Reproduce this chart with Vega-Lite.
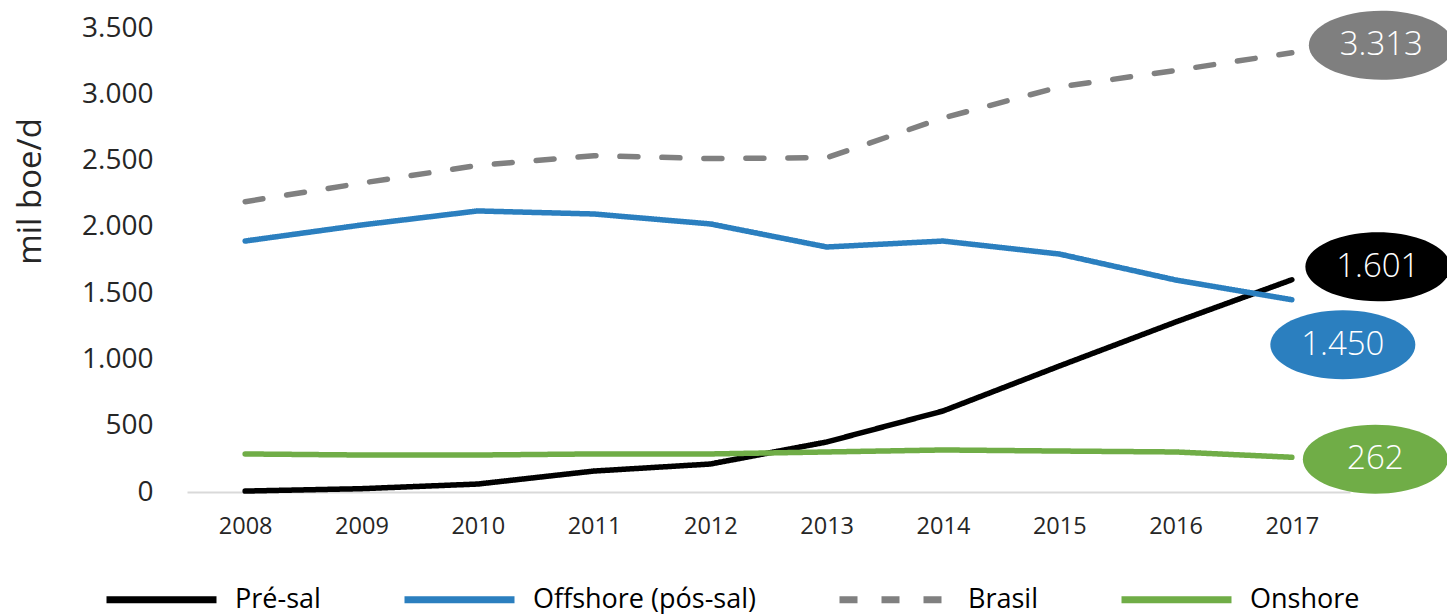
{
  "$schema": "https://vega.github.io/schema/vega-lite/v6.json",
  "autosize": {"type": "none"},
  "padding": {"left": 187, "top": 28, "right": 97, "bottom": 122},
  "width": 1163,
  "height": 464,
  "config": {
    "view": {"stroke": null},
    "font": "Open Sans",
    "locale": {"number": {"decimal": ",", "thousands": ".", "grouping": [3], "currency": ["R$", ""]}}
  },
  "data": {"values": [
    {"year": "2008", "series": "Pré-sal", "value": 7},
    {"year": "2009", "series": "Pré-sal", "value": 25},
    {"year": "2010", "series": "Pré-sal", "value": 60},
    {"year": "2011", "series": "Pré-sal", "value": 158},
    {"year": "2012", "series": "Pré-sal", "value": 211},
    {"year": "2013", "series": "Pré-sal", "value": 377},
    {"year": "2014", "series": "Pré-sal", "value": 611},
    {"year": "2015", "series": "Pré-sal", "value": 950},
    {"year": "2016", "series": "Pré-sal", "value": 1282},
    {"year": "2017", "series": "Pré-sal", "value": 1601},
    {"year": "2008", "series": "Offshore (pós-sal)", "value": 1893},
    {"year": "2009", "series": "Offshore (pós-sal)", "value": 2014},
    {"year": "2010", "series": "Offshore (pós-sal)", "value": 2120},
    {"year": "2011", "series": "Offshore (pós-sal)", "value": 2097},
    {"year": "2012", "series": "Offshore (pós-sal)", "value": 2022},
    {"year": "2013", "series": "Offshore (pós-sal)", "value": 1848},
    {"year": "2014", "series": "Offshore (pós-sal)", "value": 1893},
    {"year": "2015", "series": "Offshore (pós-sal)", "value": 1795},
    {"year": "2016", "series": "Offshore (pós-sal)", "value": 1599},
    {"year": "2017", "series": "Offshore (pós-sal)", "value": 1450},
    {"year": "2008", "series": "Brasil", "value": 2190},
    {"year": "2009", "series": "Brasil", "value": 2330},
    {"year": "2010", "series": "Brasil", "value": 2463},
    {"year": "2011", "series": "Brasil", "value": 2537},
    {"year": "2012", "series": "Brasil", "value": 2515},
    {"year": "2013", "series": "Brasil", "value": 2522},
    {"year": "2014", "series": "Brasil", "value": 2821},
    {"year": "2015", "series": "Brasil", "value": 3055},
    {"year": "2016", "series": "Brasil", "value": 3180},
    {"year": "2017", "series": "Brasil", "value": 3313},
    {"year": "2008", "series": "Onshore", "value": 287},
    {"year": "2009", "series": "Onshore", "value": 279},
    {"year": "2010", "series": "Onshore", "value": 279},
    {"year": "2011", "series": "Onshore", "value": 287},
    {"year": "2012", "series": "Onshore", "value": 287},
    {"year": "2013", "series": "Onshore", "value": 302},
    {"year": "2014", "series": "Onshore", "value": 317},
    {"year": "2015", "series": "Onshore", "value": 309},
    {"year": "2016", "series": "Onshore", "value": 302},
    {"year": "2017", "series": "Onshore", "value": 262}
  ]},
  "encoding": {
    "x": {"field": "year", "type": "ordinal", "scale": {"type": "point", "padding": 0.5},
      "axis": {"title": null, "labelAngle": 0, "labelFontSize": 23.5, "labelColor": "#262626", "labelPadding": 22, "ticks": false, "tickSize": 0, "domainColor": "#d9d9d9", "domainWidth": 2, "grid": false}},
    "y": {"field": "value", "type": "quantitative", "scale": {"domain": [0, 3500], "nice": false, "zero": true},
      "axis": {"values": [0, 500, 1000, 1500, 2000, 2500, 3000, 3500], "format": ",d", "labelFontSize": 28, "labelColor": "#262626", "labelPadding": 34, "ticks": false, "tickSize": 0, "domain": false, "grid": false,
        "title": "mil boe/d", "titleFontSize": 33, "titleFontWeight": "normal", "titleColor": "#262626",
        "titleX": -157, "titleY": 163, "titleAngle": -90, "titleAlign": "center", "titleBaseline": "middle"}}
  },
  "layer": [
    {
      "mark": {"type": "line", "strokeWidth": 5.5, "strokeCap": "round", "strokeJoin": "round"},
      "encoding": {
        "color": {"field": "series", "type": "nominal",
          "scale": {"domain": ["Pré-sal", "Offshore (pós-sal)", "Brasil", "Onshore"], "range": ["#000000", "#2b7fbf", "#808080", "#70ad47"]},
          "legend": {"orient": "none", "legendX": -84, "legendY": 513, "direction": "horizontal", "title": null,
            "symbolType": "stroke", "symbolSize": 12100, "symbolStrokeWidth": 7, "labelFontSize": 27, "labelColor": "#000000",
            "labelOffset": 15, "columnPadding": 69, "labelLimit": 500,
            "encode": {"symbols": {"update": {"strokeDash": {"signal": "datum.value === 'Brasil' ? [25, 7] : [1, 0]"}}}}}},
        "strokeDash": {"field": "series", "type": "nominal",
          "scale": {"domain": ["Pré-sal", "Offshore (pós-sal)", "Brasil", "Onshore"], "range": [[1, 0], [1, 0], [18, 24], [1, 0]]},
          "legend": null}
      }
    },
    {
      "transform": [{"filter": "datum.year === '2017' && datum.series === 'Brasil'"}],
      "encoding": {"text": {"field": "value", "type": "quantitative", "format": ",d"}},
      "layer": [
        {"mark": {"type": "point", "shape": "M-1,0A1,0.476,0,1,1,1,0A1,0.476,0,1,1,-1,0Z", "filled": true, "opacity": 1, "size": 21025, "color": "#7f7f7f", "xOffset": 89.5, "yOffset": -7.5}},
        {"mark": {"type": "text", "fontSize": 33, "fontWeight": 300, "color": "#ffffff", "align": "center", "baseline": "middle", "xOffset": 89.5, "yOffset": -7.5}}
      ]
    },
    {
      "transform": [{"filter": "datum.year === '2017' && datum.series === 'Pré-sal'"}],
      "encoding": {"text": {"field": "value", "type": "quantitative", "format": ",d"}},
      "layer": [
        {"mark": {"type": "point", "shape": "M-1,0A1,0.476,0,1,1,1,0A1,0.476,0,1,1,-1,0Z", "filled": true, "opacity": 1, "size": 21025, "color": "#000000", "xOffset": 86, "yOffset": -13}},
        {"mark": {"type": "text", "fontSize": 33, "fontWeight": 300, "color": "#ffffff", "align": "center", "baseline": "middle", "xOffset": 86, "yOffset": -13}}
      ]
    },
    {
      "transform": [{"filter": "datum.year === '2017' && datum.series === 'Offshore (pós-sal)'"}],
      "encoding": {"text": {"field": "value", "type": "quantitative", "format": ",d"}},
      "layer": [
        {"mark": {"type": "point", "shape": "M-1,0A1,0.476,0,1,1,1,0A1,0.476,0,1,1,-1,0Z", "filled": true, "opacity": 1, "size": 21025, "color": "#2b7fbf", "xOffset": 51, "yOffset": 45}},
        {"mark": {"type": "text", "fontSize": 33, "fontWeight": 300, "color": "#ffffff", "align": "center", "baseline": "middle", "xOffset": 51, "yOffset": 45}}
      ]
    },
    {
      "transform": [{"filter": "datum.year === '2017' && datum.series === 'Onshore'"}],
      "encoding": {"text": {"field": "value", "type": "quantitative", "format": ",d"}},
      "layer": [
        {"mark": {"type": "point", "shape": "M-1,0A1,0.476,0,1,1,1,0A1,0.476,0,1,1,-1,0Z", "filled": true, "opacity": 1, "size": 21025, "color": "#70ad47", "xOffset": 83.5, "yOffset": 2}},
        {"mark": {"type": "text", "fontSize": 33, "fontWeight": 300, "color": "#ffffff", "align": "center", "baseline": "middle", "xOffset": 83.5, "yOffset": 2}}
      ]
    }
  ]
}
